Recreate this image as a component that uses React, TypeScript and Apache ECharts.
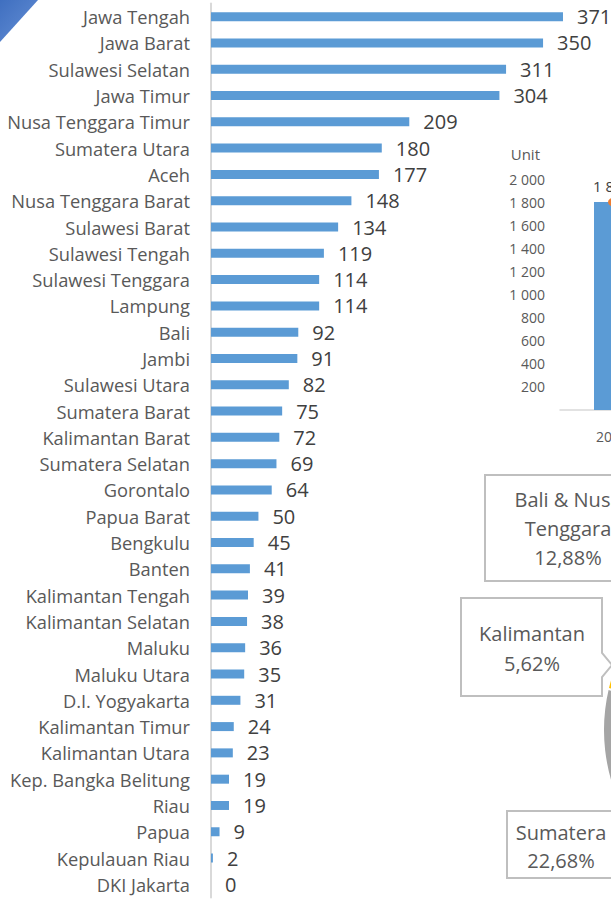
import React, { useEffect, useRef } from 'react';
import * as echarts from 'echarts';

const provinces = [
  'Jawa Tengah', 'Jawa Barat', 'Sulawesi Selatan', 'Jawa Timur', 'Nusa Tenggara Timur',
  'Sumatera Utara', 'Aceh', 'Nusa Tenggara Barat', 'Sulawesi Barat', 'Sulawesi Tengah',
  'Sulawesi Tenggara', 'Lampung', 'Bali', 'Jambi', 'Sulawesi Utara', 'Sumatera Barat',
  'Kalimantan Barat', 'Sumatera Selatan', 'Gorontalo', 'Papua Barat', 'Bengkulu', 'Banten',
  'Kalimantan Tengah', 'Kalimantan Selatan', 'Maluku', 'Maluku Utara', 'D.I. Yogyakarta',
  'Kalimantan Timur', 'Kalimantan Utara', 'Kep. Bangka Belitung', 'Riau', 'Papua',
  'Kepulauan Riau', 'DKI Jakarta',
];
const units = [
  371, 350, 311, 304, 209, 180, 177, 148, 134, 119, 114, 114, 92, 91, 82, 75, 72, 69, 64, 50,
  45, 41, 39, 38, 36, 35, 31, 24, 23, 19, 19, 9, 2, 0,
];
const provinceRegion = [
  'Jawa', 'Jawa', 'Sulawesi', 'Jawa', 'Bali & Nusa Tenggara', 'Sumatera', 'Sumatera',
  'Bali & Nusa Tenggara', 'Sulawesi', 'Sulawesi', 'Sulawesi', 'Sumatera', 'Bali & Nusa Tenggara',
  'Sumatera', 'Sulawesi', 'Sumatera', 'Kalimantan', 'Sumatera', 'Sulawesi', 'Maluku & Papua',
  'Sumatera', 'Jawa', 'Kalimantan', 'Kalimantan', 'Maluku & Papua', 'Maluku & Papua', 'Jawa',
  'Kalimantan', 'Kalimantan', 'Sumatera', 'Sumatera', 'Maluku & Papua', 'Sumatera', 'Jawa',
];
const regions = ['Jawa', 'Bali & Nusa Tenggara', 'Sumatera', 'Kalimantan', 'Sulawesi', 'Maluku & Papua'];
const regionColors = ['#5b9bd5', '#ed7d31', '#a5a5a5', '#ffc000', '#4472c4', '#70ad47'];

const insetYears = ['2017'];
const insetUnits = [1800];
const insetTicks = [0, 200, 400, 600, 800, 1000, 1200, 1400, 1600, 1800, 2000];

const FONT = '"Open Sans", "Noto Sans", sans-serif';

function fmtThousands(v: number) {
  return String(v).replace(/\B(?=(\d{3})+(?!\d))/g, ' ');
}

export default function App() {
  const ref = useRef<HTMLDivElement>(null);
  useEffect(() => {
    if (!ref.current) return;
    const chart = echarts.init(ref.current, undefined, { renderer: 'svg' });

    const total = units.reduce((a, b) => a + b, 0);
    const regionTotals = regions.map((r) =>
      units.reduce((s, v, i) => (provinceRegion[i] === r ? s + v : s), 0)
    );
    const pct = (r: string) => {
      const v = regionTotals[regions.indexOf(r)];
      return ((v / total) * 100).toFixed(2).replace('.', ',') + '%';
    };

    const boxText = {
      fontSize: 20,
      lineHeight: 29,
      fill: '#595959',
      align: 'center',
      verticalAlign: 'middle',
      fontFamily: FONT,
    };

    chart.setOption({
      animation: false,
      textStyle: { fontFamily: FONT },
      grid: [
        { left: 211, top: 3.5, width: 379.5, height: 894, outerBoundsMode: 'none', containLabel: false },
        { left: 560, top: 179, width: 104, height: 231, outerBoundsMode: 'none', containLabel: false },
      ],
      xAxis: [
        {
          gridIndex: 0,
          type: 'value',
          min: 0,
          max: 400,
          show: false,
        },
        {
          gridIndex: 1,
          type: 'category',
          data: insetYears,
          axisLine: { lineStyle: { color: '#d9d9d9', width: 1.5 } },
          axisTick: { show: false },
          axisLabel: { color: '#595959', fontSize: 14, margin: 19, fontFamily: FONT },
        },
      ],
      yAxis: [
        {
          gridIndex: 0,
          type: 'category',
          inverse: true,
          data: provinces,
          axisLine: { show: true, lineStyle: { color: '#d9d9d9', width: 2 } },
          axisTick: { show: false },
          axisLabel: { color: '#595959', fontSize: 18.3, margin: 21, fontFamily: FONT },
          splitLine: { show: false },
        },
        {
          gridIndex: 1,
          type: 'value',
          min: insetTicks[0],
          max: insetTicks[insetTicks.length - 1],
          interval: 200,
          name: 'Unit',
          nameLocation: 'end',
          nameGap: 18,
          nameTextStyle: { color: '#595959', fontSize: 15, align: 'right', padding: [0, 20, 0, 0], fontFamily: FONT },
          axisLine: { show: false },
          axisTick: { show: false },
          splitLine: { show: false },
          axisLabel: {
            color: '#595959',
            fontSize: 14,
            margin: 15,
            fontFamily: FONT,
            formatter: (v: number) => (v === 0 ? '' : fmtThousands(v)),
          },
        },
      ],
      series: [
        {
          type: 'bar',
          xAxisIndex: 0,
          yAxisIndex: 0,
          data: units,
          barWidth: 9,
          itemStyle: { color: '#5b9bd5' },
          label: {
            show: true,
            position: 'right',
            distance: 14,
            color: '#404040',
            fontSize: 20,
            fontFamily: FONT,
          },
        },
        {
          type: 'bar',
          xAxisIndex: 1,
          yAxisIndex: 1,
          data: insetUnits,
          barWidth: 36,
          itemStyle: { color: '#5b9bd5' },
          label: {
            show: true,
            position: 'top',
            distance: 9,
            color: '#404040',
            fontSize: 15,
            fontFamily: FONT,
            formatter: (p: any) => fmtThousands(p.value),
          },
        },
        {
          type: 'line',
          xAxisIndex: 1,
          yAxisIndex: 1,
          data: insetUnits,
          symbol: 'circle',
          symbolSize: 8,
          itemStyle: { color: '#ed7d31' },
          lineStyle: { color: '#ed7d31' },
          z: 5,
        },
        {
          type: 'pie',
          center: [783, 730],
          radius: 180,
          startAngle: 48,
          clockwise: true,
          label: { show: false },
          labelLine: { show: false },
          itemStyle: { borderColor: '#ffffff', borderWidth: 2 },
          data: regions.map((r, i) => ({
            name: r,
            value: regionTotals[i],
            itemStyle: { color: regionColors[i] },
          })),
        },
      ],
      graphic: [
        {
          type: 'polygon',
          z: 100,
          shape: { points: [[0, 0], [38, 0], [0, 42]] },
          style: {
            fill: new echarts.graphic.LinearGradient(0, 0, 1, 1, [
              { offset: 0, color: '#3f6fc0' },
              { offset: 0.7, color: '#5a86cf' },
              { offset: 1, color: '#c4d5f0' },
            ]),
          },
        },
        {
          type: 'rect',
          z: 100,
          shape: { x: 485, y: 475, width: 170, height: 106 },
          style: { fill: '#ffffff', stroke: '#bfbfbf', lineWidth: 2 },
        },
        {
          type: 'text',
          z: 101,
          x: 568,
          y: 528,
          style: { ...boxText, text: 'Bali & Nusa\nTenggara\n' + pct('Bali & Nusa Tenggara') },
        },
        {
          type: 'polygon',
          z: 100,
          shape: {
            points: [[461, 598], [602, 598], [602, 653], [612, 665], [602, 677], [602, 696], [461, 696]],
          },
          style: { fill: '#ffffff', stroke: '#bfbfbf', lineWidth: 2 },
        },
        {
          type: 'text',
          z: 101,
          x: 532,
          y: 648,
          style: { ...boxText, lineHeight: 30, text: 'Kalimantan\n' + pct('Kalimantan') },
        },
        {
          type: 'rect',
          z: 100,
          shape: { x: 507, y: 811, width: 130, height: 67 },
          style: { fill: '#ffffff', stroke: '#bfbfbf', lineWidth: 2 },
        },
        {
          type: 'text',
          z: 101,
          x: 561,
          y: 846,
          style: { ...boxText, lineHeight: 28, text: 'Sumatera\n' + pct('Sumatera') },
        },
      ],
    });
    return () => chart.dispose();
  }, []);

  return (
    <div
      ref={ref}
      style={{
        position: 'fixed',
        left: 0,
        top: 0,
        width: 611,
        height: 899,
        overflow: 'hidden',
        background: '#ffffff',
      }}
    />
  );
}
